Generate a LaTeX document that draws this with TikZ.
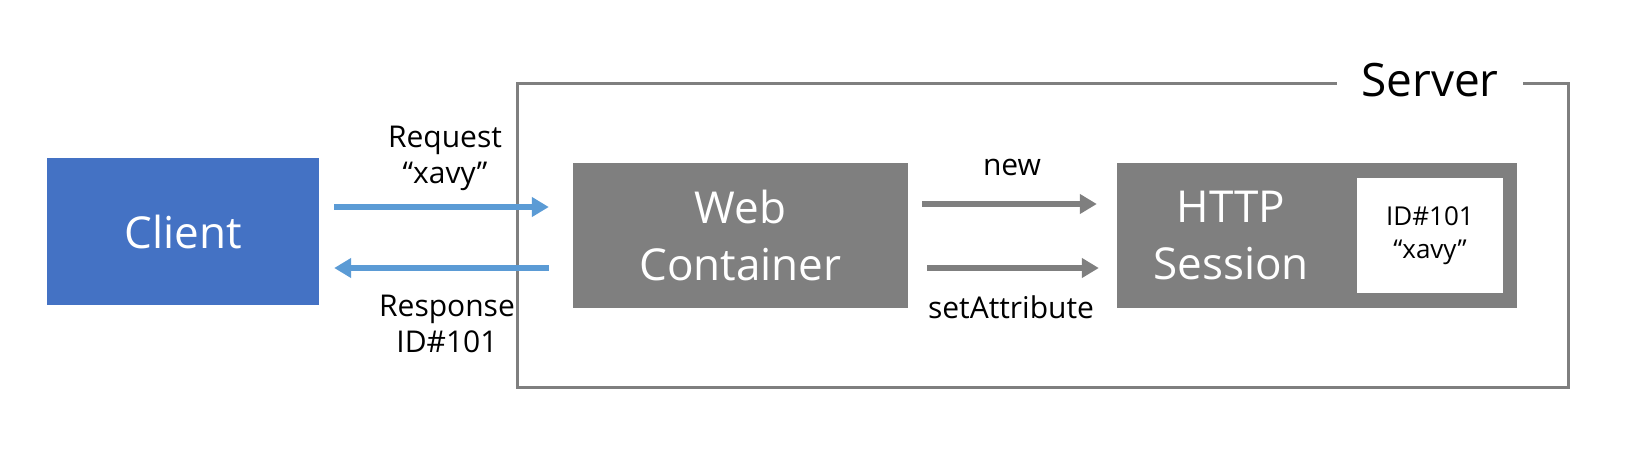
\documentclass[tikz,border=0pt]{standalone}
\usepackage{fontspec}
\setmainfont{Open Sans}
\usepackage{tikz}
\usetikzlibrary{arrows.meta}

\definecolor{clientblue}{RGB}{68,114,196}
\definecolor{arrowblue}{RGB}{91,155,213}
\definecolor{boxgray}{RGB}{127,127,127}

\begin{document}
\begin{tikzpicture}[x=1pt,y=-1pt,
  bigtext/.style={font=\fontsize{44}{57}\selectfont},
  smalltext/.style={font=\fontsize{30}{36}\selectfont,align=center},
  graybox/.style={fill=boxgray,text=white,bigtext,align=center,inner sep=0pt},
  bluearrow/.style={draw=arrowblue,line width=6pt,-{Triangle[length=17pt,width=19pt]}},
  grayarrow/.style={draw=boxgray,line width=6pt,-{Triangle[length=17pt,width=19pt]}}]

\useasboundingbox (0,0) rectangle (1625,459);

% server frame
\draw[boxgray,line width=3pt] (517,83) rectangle (1568,387);
\node[fill=white,inner xsep=24pt,font=\fontsize{46}{50}\selectfont] (server) at (1430,80) {Server};

% boxes
\node[graybox,fill=clientblue,minimum width=272pt,minimum height=147pt] (client) at (183,231.5) {Client};
\node[graybox,minimum width=335pt,minimum height=145pt] (web) at (740.5,235.5) {Web\\Container};
\node[graybox,minimum width=400pt,minimum height=145pt] (session) at (1317,235.5) {};
\node[text=white,bigtext,align=center] (sessiontext) at (1231,235.5) {HTTP\\Session};
\node[fill=white,minimum width=146pt,minimum height=115pt,smalltext,font=\fontsize{26}{33}\selectfont] (store) at (1430,235.5) {ID\#101\\“xavy”};

% client <-> web container
\draw[bluearrow,shorten <=15pt,shorten >=24pt] ([yshift=24.5pt]client.east) -- ([yshift=24.5pt]client.east -| web.west);
\draw[bluearrow,shorten <=24pt,shorten >=15pt] ([yshift=-36.5pt]client.east -| web.west) -- ([yshift=-36.5pt]client.east);
\node[smalltext] (request) at (445,158) {Request\\“xavy”};
\node[smalltext] (response) at (447,323.5) {Response\\ID\#101};

% web container -> session
\draw[grayarrow,shorten <=14pt,shorten >=20pt] ([yshift=31.5pt]web.east) -- ([yshift=31.5pt]web.east -| session.west);
\draw[grayarrow,shorten <=19pt,shorten >=18pt] ([yshift=-32.5pt]web.east) -- ([yshift=-32.5pt]web.east -| session.west);
\node[smalltext] (new) at (1012,167) {new};
\node[smalltext] (setattr) at (1011,307) {setAttribute};

\end{tikzpicture}
\end{document}
